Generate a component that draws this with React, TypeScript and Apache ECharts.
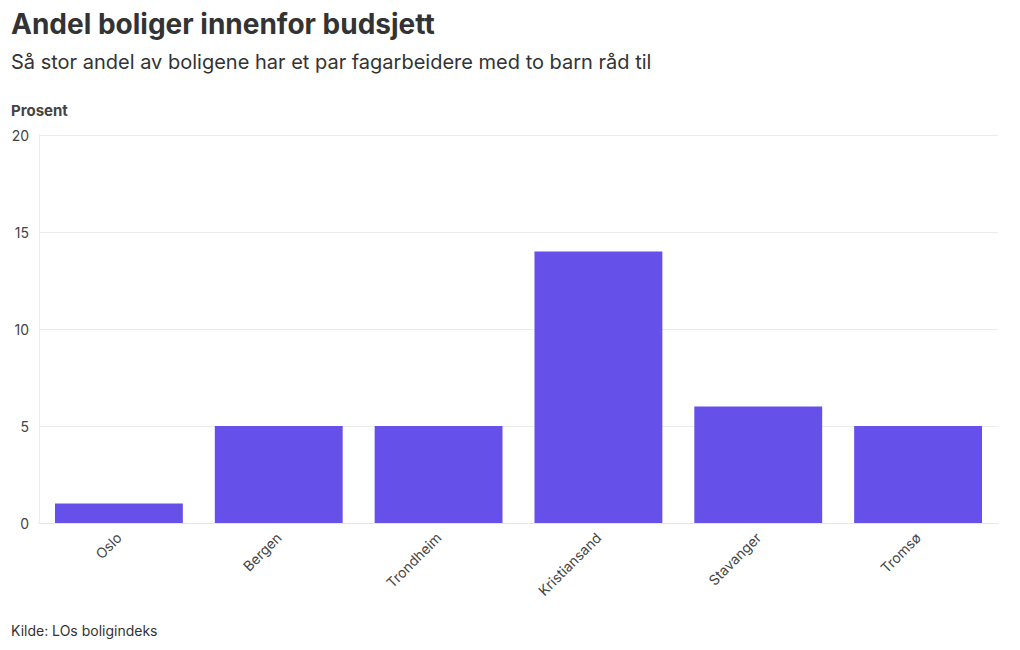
import React, { useEffect, useRef } from "react";
import * as echarts from "echarts";

const categories = ["Oslo", "Bergen", "Trondheim", "Kristiansand", "Stavanger", "Tromsø"];
const values = [1, 5, 5, 14, 6, 5];
const yTicks = [0, 5, 10, 15, 20];

const FONT = "Inter, 'Noto Sans', Roboto, sans-serif";

export default function App() {
  const ref = useRef<HTMLDivElement>(null);
  useEffect(() => {
    document.body.style.margin = "0";
    const chart = echarts.init(ref.current!, null, { renderer: "svg" });
    chart.setOption({
      animation: false,
      textStyle: { fontFamily: FONT },
      title: [
        {
          text: "Andel boliger innenfor budsjett",
          left: 11,
          top: 10,
          padding: 0,
          textStyle: { fontFamily: FONT, fontSize: 28, fontWeight: "bold", color: "#333" },
        },
        {
          text: "Så stor andel av boligene har et par fagarbeidere med to barn råd til",
          left: 11,
          top: 52,
          padding: 0,
          textStyle: { fontFamily: FONT, fontSize: 20, fontWeight: "normal", color: "#333" },
        },
        {
          text: "Prosent",
          left: 11,
          top: 103,
          padding: 0,
          textStyle: { fontFamily: FONT, fontSize: 15, fontWeight: "bold", color: "#444" },
        },
        {
          text: "Kilde: LOs boligindeks",
          left: 11,
          top: 623,
          padding: 0,
          textStyle: { fontFamily: FONT, fontSize: 14, fontWeight: "normal", color: "#333" },
        },
      ],
      grid: { left: 39, right: 22, top: 135, bottom: 127, containLabel: false },
      xAxis: {
        type: "category",
        data: categories,
        axisLine: { lineStyle: { color: "#e6e6e6" } },
        axisTick: { alignWithLabel: true, length: 6, lineStyle: { color: "#e6e6e6" } },
        axisLabel: { rotate: 45, color: "#444", fontSize: 14, margin: 12, fontFamily: FONT },
      },
      yAxis: {
        type: "value",
        min: yTicks[0],
        max: yTicks[yTicks.length - 1],
        interval: 5,
        axisLine: { show: true, lineStyle: { color: "#ececec" } },
        axisTick: { show: false },
        splitLine: { lineStyle: { color: "#ececec" } },
        axisLabel: { color: "#444", fontSize: 14, margin: 10, fontFamily: FONT },
      },
      series: [
        {
          type: "bar",
          data: values,
          barCategoryGap: "20%",
          itemStyle: { color: "#6650ea" },
        },
      ],
    });
    return () => chart.dispose();
  }, []);
  return <div ref={ref} style={{ width: 1020, height: 650 }} />;
}
